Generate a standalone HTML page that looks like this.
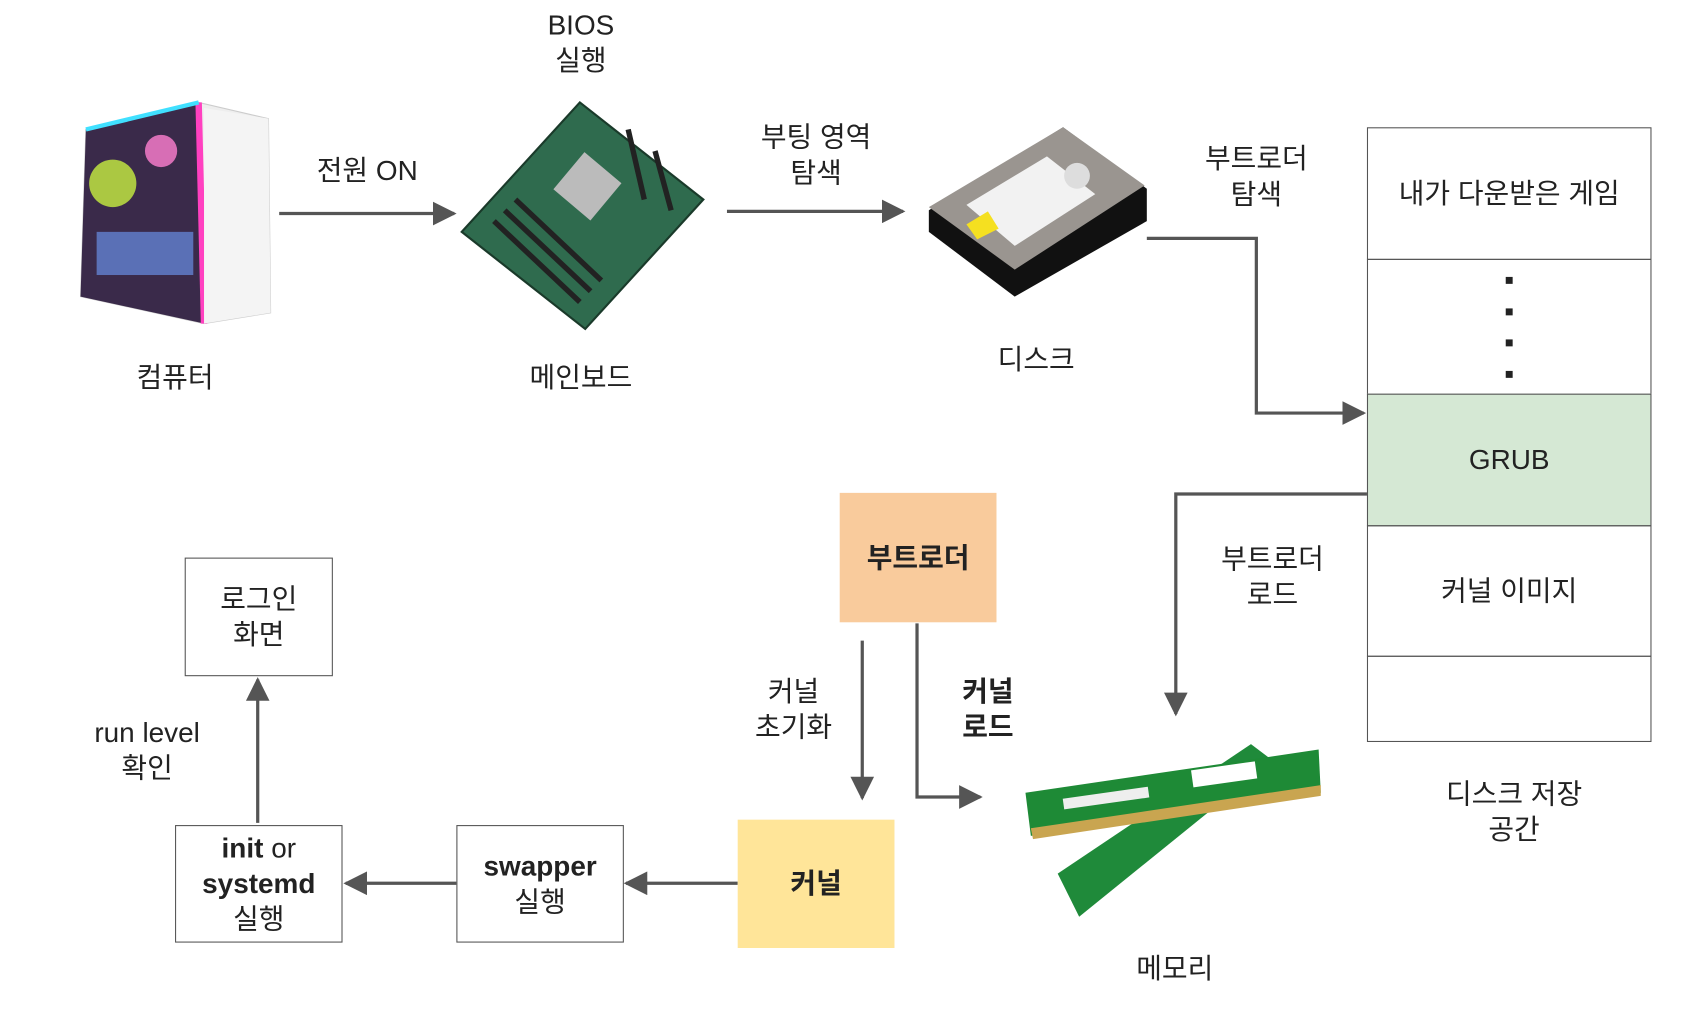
<!DOCTYPE html>
<html><head><meta charset="utf-8"><style>
html,body{margin:0;padding:0;background:#fff;width:1684px;height:1010px;overflow:hidden}
#w{position:absolute;left:0;top:0;width:1560px;height:936px;transform:scale(1.0738,1.0785);transform-origin:0 0;font-family:"Liberation Sans","Noto Sans CJK KR",sans-serif;color:#222;font-size:26px}
.t{position:absolute;text-align:center;line-height:33px;white-space:nowrap;transform:translateX(-50%)}
.b{position:absolute;box-sizing:border-box;border:1.5px solid #555;display:flex;align-items:center;justify-content:center;text-align:center;line-height:33px}
svg{position:absolute;left:0;top:0}
</style></head><body><div id="w">
<svg width="1560" height="936">
<defs>
<marker id="m" viewBox="0 0 10 10" markerWidth="22" markerHeight="22" refX="9" refY="5" orient="auto" markerUnits="userSpaceOnUse"><path d="M0,0 L10,5 L0,10 z" fill="#555"/></marker></defs>
<g stroke="#555" stroke-width="3" fill="none">
<path d="M260,198 H423" marker-end="url(#m)"/>
<path d="M677,196 H841" marker-end="url(#m)"/>
<path d="M1068,221 H1170 V383 H1270" marker-end="url(#m)"/>
<path d="M1277,458 H1095 V662" marker-end="url(#m)"/>
<path d="M803,594 V740" marker-end="url(#m)"/>
<path d="M854,578 V739 H913" marker-end="url(#m)"/>
<path d="M687,819 H583" marker-end="url(#m)"/>
<path d="M425,819 H322" marker-end="url(#m)"/>
<path d="M240,763 V630" marker-end="url(#m)"/>
</g>
<g>
<path d="M80,120 L185,95 L250,110 L252,290 L190,300 L75,275 Z" fill="#eee" stroke="#ccc"/>
<path d="M80,120 L185,95 L190,300 L75,275 Z" fill="#3a2a4a"/>
<path d="M185,95 L190,300" stroke="#ff40c0" stroke-width="6"/>
<path d="M80,120 L185,95" stroke="#40e0ff" stroke-width="4"/>
<circle cx="105" cy="170" r="22" fill="#c8f040" opacity=".8"/>
<circle cx="150" cy="140" r="15" fill="#ff80d0" opacity=".8"/>
<rect x="90" y="215" width="90" height="40" fill="#70a0ff" opacity=".6"/>
<path d="M190,100 L250,110 L252,290 L190,300Z" fill="#f4f4f4"/>
</g>
<g>
<path d="M430,215 L540,95 L655,185 L545,305 Z" fill="#2f6b4e" stroke="#1a3a2a" stroke-width="2"/>
<rect x="525" y="150" width="45" height="45" fill="#bbb" transform="rotate(40 547 172)"/>
<g stroke="#222" stroke-width="5"><path d="M460,205 L540,280"/><path d="M470,195 L550,270"/><path d="M480,185 L560,260"/><path d="M585,120 L600,185"/><path d="M610,140 L625,195"/></g>
</g>
<g>
<path d="M865,195 L990,118 L1068,175 L1068,205 L945,275 L865,215 Z" fill="#111"/>
<path d="M865,192 L990,118 L1066,172 L945,250 Z" fill="#9a9590"/>
<path d="M900,190 L975,145 L1020,180 L945,228 Z" fill="#f2f2f2"/>
<circle cx="1003" cy="163" r="12" fill="#ddd"/>
<path d="M900,208 L920,196 L930,212 L910,222Z" fill="#f5e020"/>
</g>
<g>
<path d="M985,810 L1165,690 L1185,705 L1005,850 Z" fill="#1f8a3a"/>
<path d="M955,735 L1228,695 L1230,735 L960,775 Z" fill="#1e8a36"/>
<path d="M960,768 L1230,728 L1230,738 L962,778 Z" fill="#c9a550"/>
<rect x="1110" y="710" width="60" height="16" fill="#fff" transform="rotate(-8 1140 718)"/>
<rect x="990" y="735" width="80" height="10" fill="#eee" transform="rotate(-8 1030 740)"/>
</g>
</svg>
<div class="b" style="left:1273px;top:118px;width:265px;height:123px">내가 다운받은 게임</div>
<div class="b" style="left:1273px;top:240px;width:265px;height:126px;flex-direction:column;line-height:29px;font-weight:bold">▪<br>▪<br>▪<br>▪</div>
<div class="b" style="left:1273px;top:365px;width:265px;height:123px;background:#d5e8d4">GRUB</div>
<div class="b" style="left:1273px;top:487px;width:265px;height:122px">커널 이미지</div>
<div class="b" style="left:1273px;top:608px;width:265px;height:80px"></div>
<div class="b" style="left:782px;top:457px;width:146px;height:120px;background:#f9cb9c;border:none;font-weight:bold">부트로더</div>
<div class="b" style="left:687px;top:760px;width:146px;height:119px;background:#ffe599;border:none;font-weight:bold">커널</div>
<div class="b" style="left:425px;top:765px;width:156px;height:109px"><div><b>swapper</b><br>실행</div></div>
<div class="b" style="left:163px;top:765px;width:156px;height:109px"><div><b>init</b> or<br><b>systemd</b><br>실행</div></div>
<div class="b" style="left:172px;top:517px;width:138px;height:110px">로그인<br>화면</div>
<div class="t" style="left:541px;top:7px">BIOS<br>실행</div>
<div class="t" style="left:342px;top:142px">전원 ON</div>
<div class="t" style="left:760px;top:111px">부팅 영역<br>탐색</div>
<div class="t" style="left:1170px;top:131px">부트로더<br>탐색</div>
<div class="t" style="left:163px;top:334px">컴퓨터</div>
<div class="t" style="left:541px;top:334px">메인보드</div>
<div class="t" style="left:965px;top:317px">디스크</div>
<div class="t" style="left:1410px;top:720px">디스크 저장<br>공간</div>
<div class="t" style="left:1185px;top:502px">부트로더<br>로드</div>
<div class="t" style="left:739px;top:625px">커널<br>초기화</div>
<div class="t" style="left:920px;top:625px;font-weight:bold">커널<br>로드</div>
<div class="t" style="left:1094px;top:882px">메모리</div>
<div class="t" style="left:137px;top:663px">run level<br>확인</div>
</div></body></html>
